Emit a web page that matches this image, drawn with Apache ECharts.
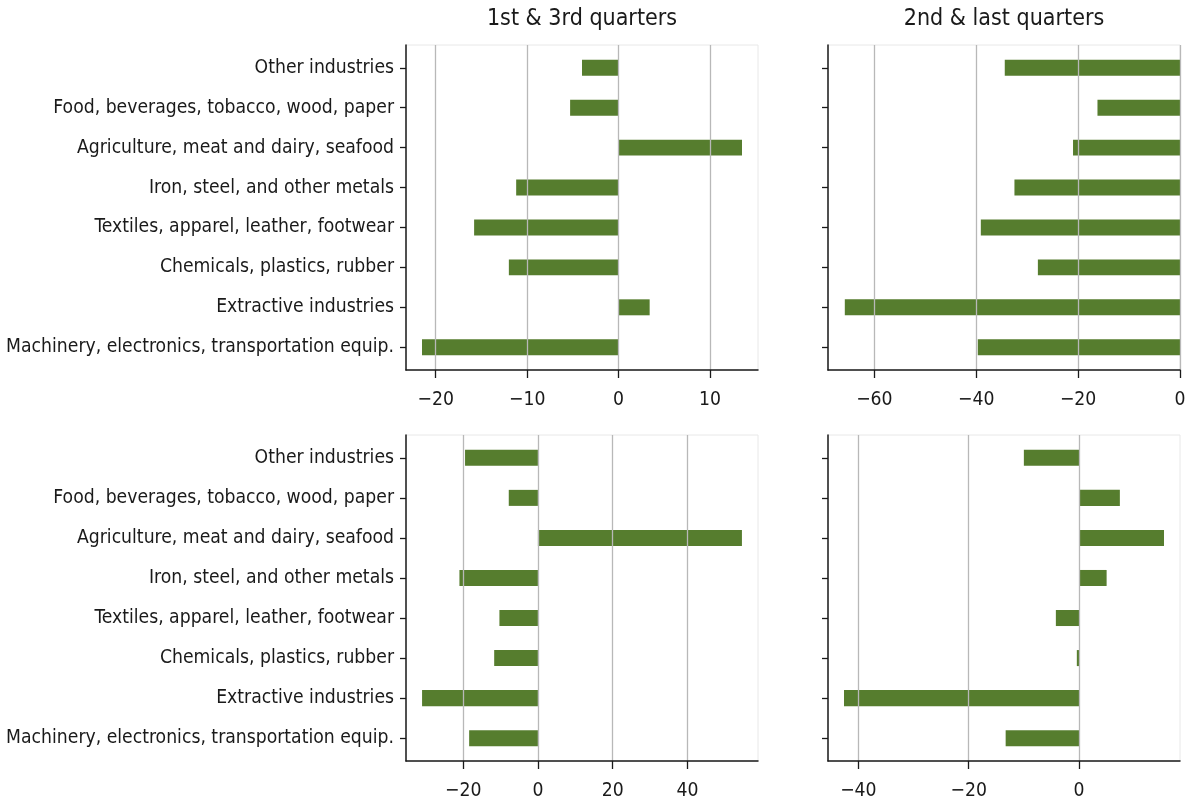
<!DOCTYPE html>
<html><head><meta charset="utf-8">
<script src="https://cdn.jsdelivr.net/npm/echarts@6/dist/echarts.min.js"></script>
<style>html,body{margin:0;padding:0;background:#fff}#chart{width:1189px;height:805px}</style>
</head><body><div id="chart"></div>
<script>
// ---------- data ----------
const categories = [
  "Machinery, electronics, transportation equip.",
  "Extractive industries",
  "Chemicals, plastics, rubber",
  "Textiles, apparel, leather, footwear",
  "Iron, steel, and other metals",
  "Agriculture, meat and dairy, seafood",
  "Food, beverages, tobacco, wood, paper",
  "Other industries"
];
const topLeftValues     = [-21.5, 3.4, -12.0, -15.8, -11.2, 13.5, -5.3, -4.0];
const topRightValues    = [-39.7, -65.8, -27.9, -39.1, -32.5, -21.0, -16.2, -34.4];
const bottomLeftValues  = [-18.4, -31.0, -11.7, -10.3, -21.0, 54.6, -7.8, -19.5];
const bottomRightValues = [-13.3, -42.6, -0.4, -4.2, 5.0, 15.4, 7.4, -10.0];
const panelTitles = ["1st & 3rd quarters", "2nd & last quarters"];
const topLeftTicks     = [-20, -10, 0, 10];
const topRightTicks    = [-60, -40, -20, 0];
const bottomLeftTicks  = [-20, 0, 20, 40];
const bottomRightTicks = [-40, -20, 0];
const topLeftRange     = [-23.25, 15.25];
const topRightRange    = [-69.1, 0];
const bottomLeftRange  = [-35.3, 58.9];
const bottomRightRange = [-45.5, 18.3];
const categoryRange = [-0.57, 7.57];
const categoryTicks = [0, 1, 2, 3, 4, 5, 6, 7];
const BAR_HEIGHT = 0.4;

// ---------- fonts ----------
function fontAvailable(name) {
  const ctx = document.createElement('canvas').getContext('2d');
  const s = 'Machinery, electronics 0123';
  for (const fb of ['monospace', 'serif']) {
    ctx.font = '50px ' + fb; const a = ctx.measureText(s).width;
    ctx.font = '50px "' + name + '", ' + fb; const b = ctx.measureText(s).width;
    if (Math.abs(a - b) > 0.5) return true;
  }
  return false;
}
const FONT = ['Liberation Sans Narrow', 'DejaVu Sans Condensed', 'DejaVu Sans'].find(fontAvailable) || 'sans-serif';
const LABEL_SIZE = (function () {
  const ctx = document.createElement('canvas').getContext('2d');
  ctx.font = '100px "' + FONT + '"';
  const w = ctx.measureText(categories[0]).width;
  return Math.round(389 / w * 100 * 10) / 10;
})();
const TITLE_SIZE = LABEL_SIZE * 1.2;

// ---------- layout ----------
const grids = [
  { left: 406, top: 45, width: 352, height: 325 },
  { left: 828, top: 45, width: 352, height: 325 },
  { left: 406, top: 435, width: 352, height: 326 },
  { left: 828, top: 435, width: 352, height: 326 }
];
const panels = [
  { values: topLeftValues, ticks: topLeftTicks, range: topLeftRange, showCats: true },
  { values: topRightValues, ticks: topRightTicks, range: topRightRange, showCats: false },
  { values: bottomLeftValues, ticks: bottomLeftTicks, range: bottomLeftRange, showCats: true },
  { values: bottomRightValues, ticks: bottomRightTicks, range: bottomRightRange, showCats: false }
];
const BAR_COLOR = '#567d2e';
const AXIS_COLOR = '#1a1a1a';

function fmtNum(v) { return v < 0 ? '\u2212' + Math.abs(v) : String(v); }

function renderItem(params, api) {
  const v = api.value(0), idx = api.value(1);
  const p0 = api.coord([0, idx]);
  const p1 = api.coord([v, idx]);
  const h = api.size([0, BAR_HEIGHT])[1];
  return {
    type: 'rect',
    shape: { x: Math.min(p0[0], p1[0]), y: p0[1] - h / 2, width: Math.abs(p1[0] - p0[0]), height: h },
    style: { fill: BAR_COLOR }
  };
}

const option = {
  backgroundColor: '#fff',
  animation: false,
  title: [
    { text: panelTitles[0], left: 582, top: 8, padding: 0, textAlign: 'center',
      textStyle: { fontFamily: FONT, fontSize: TITLE_SIZE, fontWeight: 'normal', color: '#1a1a1a' } },
    { text: panelTitles[1], left: 1004, top: 8, padding: 0, textAlign: 'center',
      textStyle: { fontFamily: FONT, fontSize: TITLE_SIZE, fontWeight: 'normal', color: '#1a1a1a' } }
  ],
  grid: grids.map(g => Object.assign({ show: true, borderColor: '#e8e8e8', borderWidth: 1, containLabel: false }, g)),
  xAxis: panels.map((p, i) => ({
    type: 'value', gridIndex: i, min: p.range[0], max: p.range[1], z: 5,
    axisLine: { show: true, onZero: false, lineStyle: { color: AXIS_COLOR, width: 1.5 } },
    axisTick: { show: true, length: 8, customValues: p.ticks, lineStyle: { color: AXIS_COLOR, width: 1.3 } },
    axisLabel: { customValues: p.ticks, margin: 21, formatter: fmtNum, color: '#1a1a1a',
      fontFamily: FONT, fontSize: LABEL_SIZE },
    splitLine: { show: true, customValues: p.ticks, lineStyle: { color: '#b8b8b8', width: 1.3 } }
  })),
  yAxis: panels.map((p, i) => ({
    type: 'value', gridIndex: i, min: categoryRange[0], max: categoryRange[1], z: 5,
    axisLine: { show: true, onZero: false, lineStyle: { color: AXIS_COLOR, width: 1.5 } },
    axisTick: { show: true, length: 6, customValues: categoryTicks, lineStyle: { color: AXIS_COLOR, width: 1.3 } },
    axisLabel: { show: p.showCats, customValues: categoryTicks, margin: 12, padding: [5, 0, 0, 0],
      formatter: v => categories[Math.round(v)] || '', color: '#1a1a1a',
      fontFamily: FONT, fontSize: LABEL_SIZE },
    splitLine: { show: false }
  })),
  series: panels.map((p, i) => ({
    type: 'custom', xAxisIndex: i, yAxisIndex: i, z: 2,
    renderItem: renderItem,
    encode: { x: 0, y: 1 },
    data: p.values.map((v, k) => [v, k])
  }))
};

const chart = echarts.init(document.getElementById('chart'), null, { renderer: 'canvas' });
chart.setOption(option);
</script>
</body></html>
